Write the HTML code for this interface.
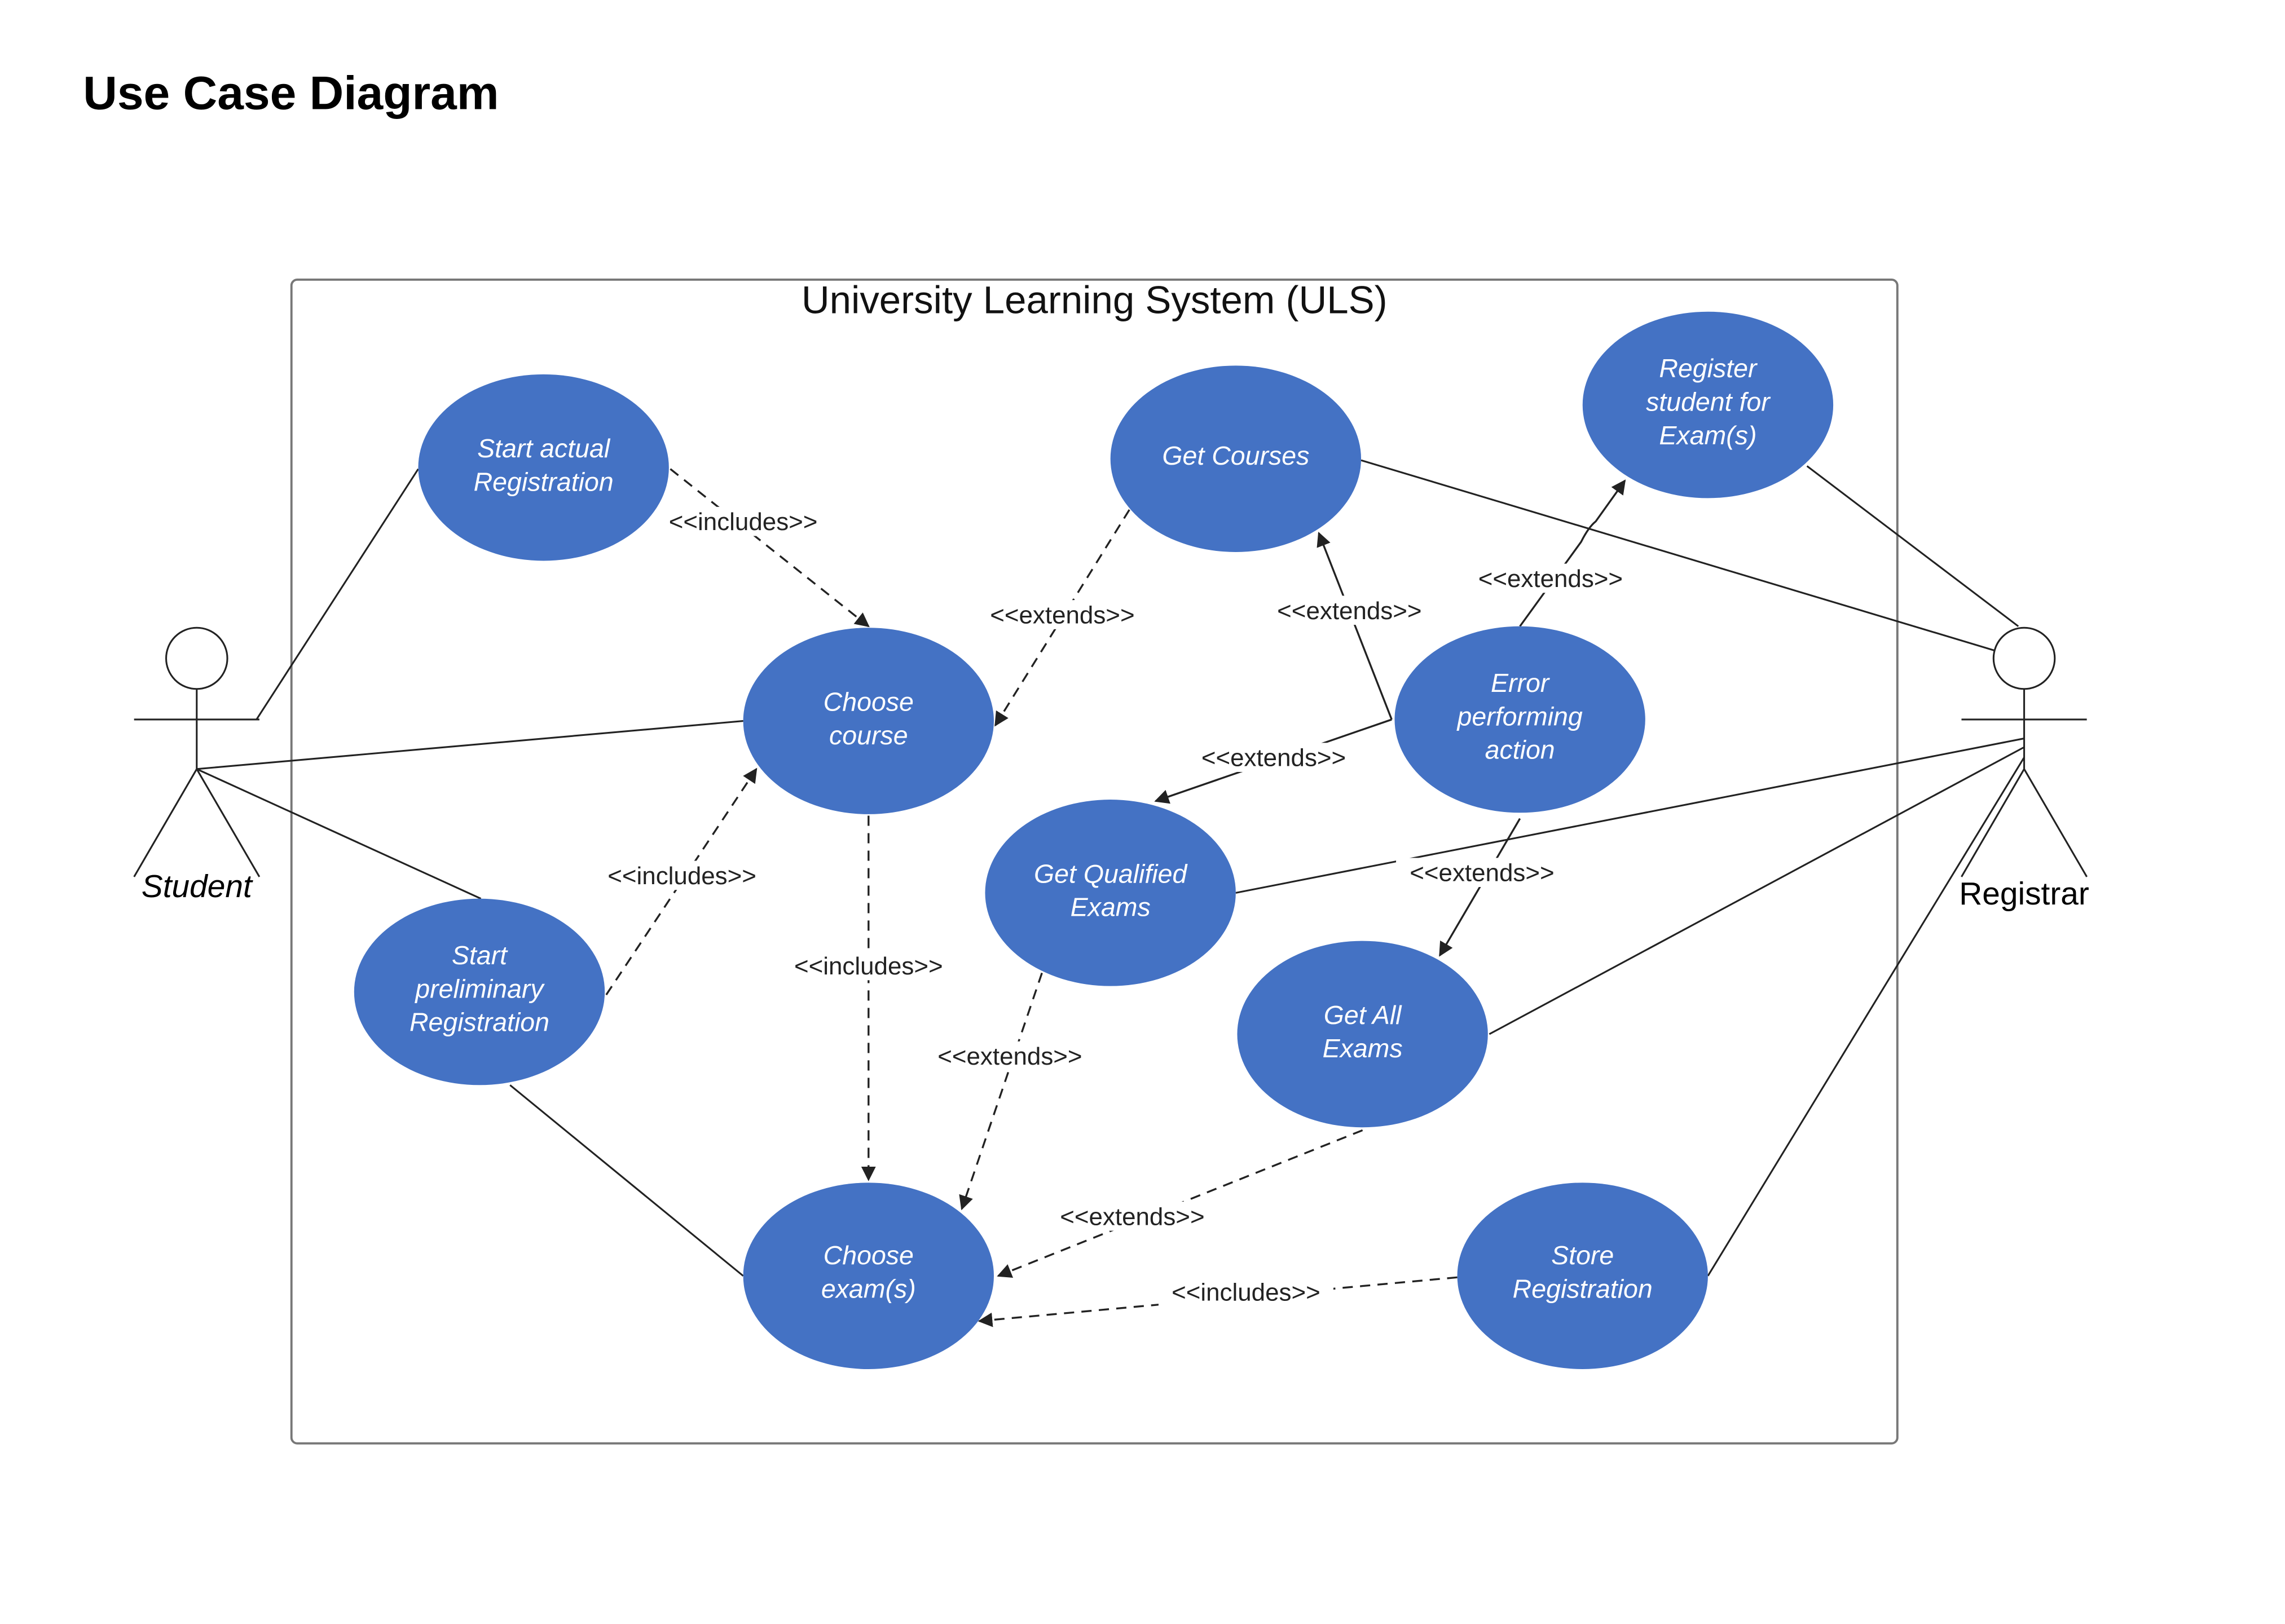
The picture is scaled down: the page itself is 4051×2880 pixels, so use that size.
<!DOCTYPE html>
<html><head><meta charset="utf-8"><style>html,body{margin:0;padding:0;background:#fff}svg{display:block}</style></head>
<body>
<svg width="4051" height="2880" viewBox="0 0 1568 1115" preserveAspectRatio="none" xmlns="http://www.w3.org/2000/svg" font-family="Liberation Sans, sans-serif">
<defs>
<marker id="a" viewBox="0 0 10 10" refX="9" refY="5" markerWidth="10" markerHeight="10" markerUnits="userSpaceOnUse" orient="auto"><path d="M0,0 L10,5 L0,10 z" fill="#222"/></marker>
</defs>
<rect width="1568" height="1115" fill="#fff"/>
<text x="57" y="75" font-size="32.5" font-weight="bold" fill="#000">Use Case Diagram</text>
<rect x="200" y="192" width="1102" height="799" rx="4" fill="none" stroke="#777" stroke-width="1.5"/>
<text x="751" y="215" font-size="26.7" text-anchor="middle" fill="#111">University Learning System (ULS)</text>

<g stroke="#222" stroke-width="1.2" fill="none">
<line x1="176" y1="494" x2="287" y2="322"/>
<line x1="135" y1="528" x2="510" y2="495"/>
<line x1="135" y1="528" x2="330" y2="617"/>
<line x1="350" y1="745" x2="510" y2="876"/>
<line x1="934" y1="316" x2="1370" y2="447"/>
<line x1="1240" y1="320" x2="1385" y2="430"/>
<line x1="848" y1="613" x2="1389" y2="507"/>
<line x1="1022" y1="710" x2="1389" y2="513"/>
<line x1="1172" y1="876" x2="1389" y2="520"/>
<circle cx="135" cy="452" r="21" fill="#fff"/>
<line x1="135" y1="473" x2="135" y2="528"/>
<line x1="92" y1="494" x2="178" y2="494"/>
<line x1="135" y1="528" x2="92" y2="602"/>
<line x1="135" y1="528" x2="178" y2="602"/>
<circle cx="1389" cy="452" r="21" fill="#fff"/>
<line x1="1389" y1="473" x2="1389" y2="528"/>
<line x1="1346" y1="494" x2="1432" y2="494"/>
<line x1="1389" y1="528" x2="1346" y2="602"/>
<line x1="1389" y1="528" x2="1432" y2="602"/>
</g>
<text x="135" y="616" font-size="22" font-style="italic" text-anchor="middle">Student</text>
<text x="1389" y="621" font-size="22" text-anchor="middle">Registrar</text>

<g stroke="#222" stroke-width="1.3" fill="none" marker-end="url(#a)">
<line x1="460" y1="322" x2="596" y2="430" stroke-dasharray="7,5"/>
<line x1="775" y1="350" x2="683" y2="498" stroke-dasharray="7,5"/>
<line x1="955" y1="494" x2="905" y2="366"/>
<path d="M1043,430 L1085,372 Q1090,362 1095,358 L1115,330"/>
<line x1="955" y1="494" x2="793" y2="550"/>
<line x1="1043" y1="562" x2="988" y2="656"/>
<line x1="416" y1="683" x2="519" y2="528" stroke-dasharray="7,5"/>
<line x1="596" y1="560" x2="596" y2="810" stroke-dasharray="7,5"/>
<line x1="715" y1="668" x2="660" y2="830" stroke-dasharray="7,5"/>
<line x1="935" y1="776" x2="685" y2="876" stroke-dasharray="7,5"/>
<line x1="1000" y1="877" x2="672" y2="907" stroke-dasharray="7,5"/>
</g>

<g font-size="17" text-anchor="middle" fill="#222">
<g fill="#fff"><rect x="450" y="348" width="120" height="20"/><rect x="670" y="412" width="118" height="20"/><rect x="867" y="409" width="118" height="20"/><rect x="1005" y="387" width="118" height="20"/><rect x="815" y="510" width="118" height="20"/><rect x="958" y="589" width="118" height="20"/><rect x="408" y="591" width="120" height="20"/><rect x="536" y="653" width="120" height="20"/><rect x="634" y="715" width="118" height="20"/><rect x="718" y="825" width="118" height="20"/><rect x="795" y="877" width="120" height="20"/></g>
<text x="510" y="364">&lt;&lt;includes&gt;&gt;</text>
<text x="729" y="428">&lt;&lt;extends&gt;&gt;</text>
<text x="926" y="425">&lt;&lt;extends&gt;&gt;</text>
<text x="1064" y="403">&lt;&lt;extends&gt;&gt;</text>
<text x="874" y="526">&lt;&lt;extends&gt;&gt;</text>
<text x="1017" y="605">&lt;&lt;extends&gt;&gt;</text>
<text x="468" y="607">&lt;&lt;includes&gt;&gt;</text>
<text x="596" y="669">&lt;&lt;includes&gt;&gt;</text>
<text x="693" y="731">&lt;&lt;extends&gt;&gt;</text>
<text x="777" y="841">&lt;&lt;extends&gt;&gt;</text>
<text x="855" y="893">&lt;&lt;includes&gt;&gt;</text>
</g>

<g fill="#4472C4">
<ellipse cx="373" cy="321" rx="86" ry="64"/>
<ellipse cx="848" cy="315" rx="86" ry="64"/>
<ellipse cx="1172" cy="278" rx="86" ry="64"/>
<ellipse cx="596" cy="495" rx="86" ry="64"/>
<ellipse cx="1043" cy="494" rx="86" ry="64"/>
<ellipse cx="762" cy="613" rx="86" ry="64"/>
<ellipse cx="329" cy="681" rx="86" ry="64"/>
<ellipse cx="935" cy="710" rx="86" ry="64"/>
<ellipse cx="596" cy="876" rx="86" ry="64"/>
<ellipse cx="1086" cy="876" rx="86" ry="64"/>
</g>
<g font-size="18" font-style="italic" text-anchor="middle" fill="#fff">
<text x="373" y="314">Start actual</text><text x="373" y="337">Registration</text>
<text x="848" y="319">Get Courses</text>
<text x="1172" y="259">Register</text><text x="1172" y="282">student for</text><text x="1172" y="305">Exam(s)</text>
<text x="596" y="488">Choose</text><text x="596" y="511">course</text>
<text x="1043" y="475">Error</text><text x="1043" y="498">performing</text><text x="1043" y="521">action</text>
<text x="762" y="606">Get Qualified</text><text x="762" y="629">Exams</text>
<text x="329" y="662">Start</text><text x="329" y="685">preliminary</text><text x="329" y="708">Registration</text>
<text x="935" y="703">Get All</text><text x="935" y="726">Exams</text>
<text x="596" y="868">Choose</text><text x="596" y="891">exam(s)</text>
<text x="1086" y="868">Store</text><text x="1086" y="891">Registration</text>
</g>
</svg>
</body></html>
